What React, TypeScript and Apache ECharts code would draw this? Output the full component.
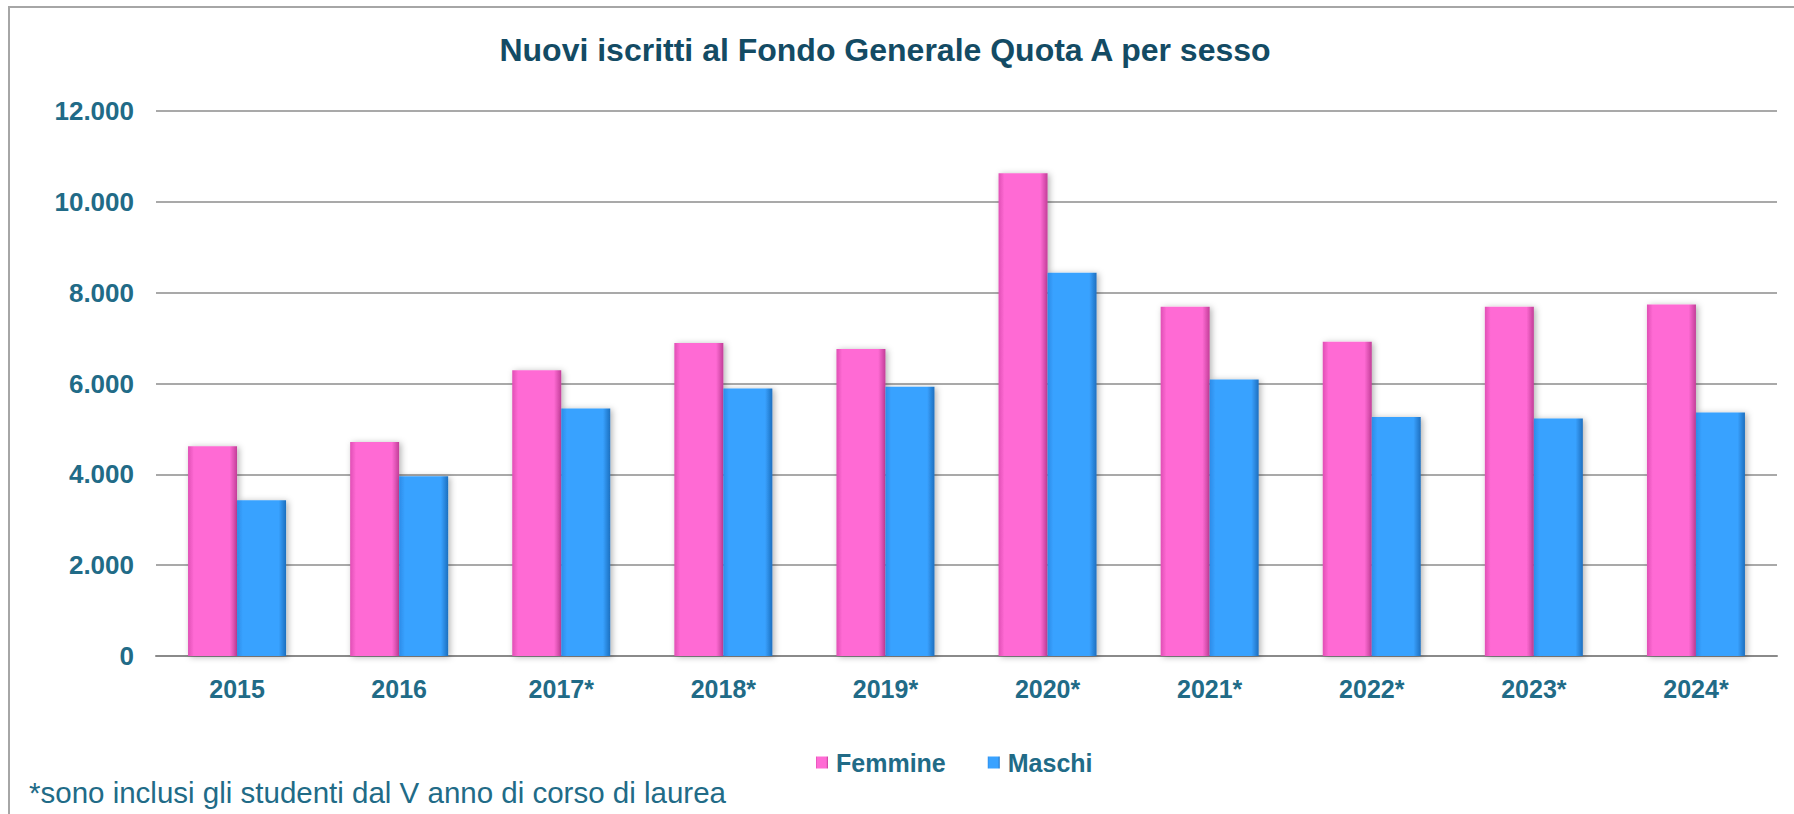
import React, { useEffect, useRef } from "react";
import * as echarts from "echarts";

const categories = ["2015", "2016", "2017*", "2018*", "2019*", "2020*", "2021*", "2022*", "2023*", "2024*"];
const femmine = [4620, 4710, 6290, 6890, 6760, 10630, 7690, 6920, 7690, 7740];
const maschi = [3430, 3960, 5450, 5890, 5930, 8440, 6090, 5260, 5230, 5360];
const seriesNames = ["Femmine", "Maschi"];
const titleText = "Nuovi iscritti al Fondo Generale Quota A per sesso";
const footnote = "*sono inclusi gli studenti dal V anno di corso di laurea";

const FONT = "Liberation Sans, Arial, sans-serif";
const LABEL = "#216B87";

const grad = (edge: string, mid: string, dark: string) =>
  new echarts.graphic.LinearGradient(0, 0, 1, 0, [
    { offset: 0, color: edge },
    { offset: 0.12, color: mid },
    { offset: 0.85, color: mid },
    { offset: 1, color: dark },
  ]);

export default function App() {
  const ref = useRef<HTMLDivElement>(null);
  useEffect(() => {
    document.body.style.margin = "0";
    const chart = echarts.init(ref.current!, null, { renderer: "svg" });
    chart.setOption({
      animation: false,
      backgroundColor: "#ffffff",
      title: {
        text: titleText,
        left: 880,
        textAlign: "center",
        top: 29,
        textStyle: { fontFamily: FONT, fontSize: 32, fontWeight: "bold", color: "#134B64" },
      },
      grid: { left: 156, right: 17, top: 111, bottom: 158, containLabel: false },
      legend: {
        left: 811,
        top: 745,
        itemWidth: 12,
        itemHeight: 12,
        itemGap: 42,
        icon: "rect",
        textStyle: { fontFamily: FONT, fontSize: 25, fontWeight: "bold", color: LABEL, padding: [0, 0, 0, 3] },
        data: seriesNames,
      },
      xAxis: {
        type: "category",
        data: categories,
        axisLine: { lineStyle: { color: "#8A8A8A", width: 2 } },
        axisTick: { show: false },
        axisLabel: { fontFamily: FONT, fontSize: 25, fontWeight: "bold", color: LABEL, margin: 20 },
      },
      yAxis: {
        type: "value",
        min: 0,
        max: 12000,
        interval: 2000,
        axisLine: { show: false },
        axisTick: { show: false },
        splitLine: { lineStyle: { color: "#8C8C8C", width: 1.5 } },
        axisLabel: {
          fontFamily: FONT,
          fontSize: 26,
          fontWeight: "bold",
          color: LABEL,
          margin: 22,
          formatter: (v: number) => v.toLocaleString("it-IT").replace(/\u00a0/g, "."),
        },
      },
      series: [
        {
          name: seriesNames[0],
          type: "bar",
          data: femmine,
          barWidth: 49,
          barGap: "0%",
          itemStyle: {
            color: grad("#E04FB5", "#FF6BD4", "#C23E98"),
            shadowBlur: 6,
            shadowColor: "rgba(0,0,0,0.3)",
            shadowOffsetX: 2,
            shadowOffsetY: 1,
          },
        },
        {
          name: seriesNames[1],
          type: "bar",
          data: maschi,
          barWidth: 49,
          itemStyle: {
            color: grad("#2C8CE8", "#39A2FF", "#1D6FBF"),
            shadowBlur: 6,
            shadowColor: "rgba(0,0,0,0.3)",
            shadowOffsetX: 2,
            shadowOffsetY: 1,
          },
        },
      ],
      graphic: [
        {
          type: "rect",
          shape: { x: 9, y: 7, width: 1820, height: 900 },
          style: { fill: "none", stroke: "#A6A6A6", lineWidth: 2 },
          silent: true,
        },
        {
          type: "text",
          left: 29,
          top: 777,
          style: { text: footnote, fontFamily: FONT, fontSize: 29.5, fill: LABEL },
        },
      ],
    });
    return () => chart.dispose();
  }, []);
  return <div ref={ref} style={{ width: 1794, height: 814 }} />;
}
